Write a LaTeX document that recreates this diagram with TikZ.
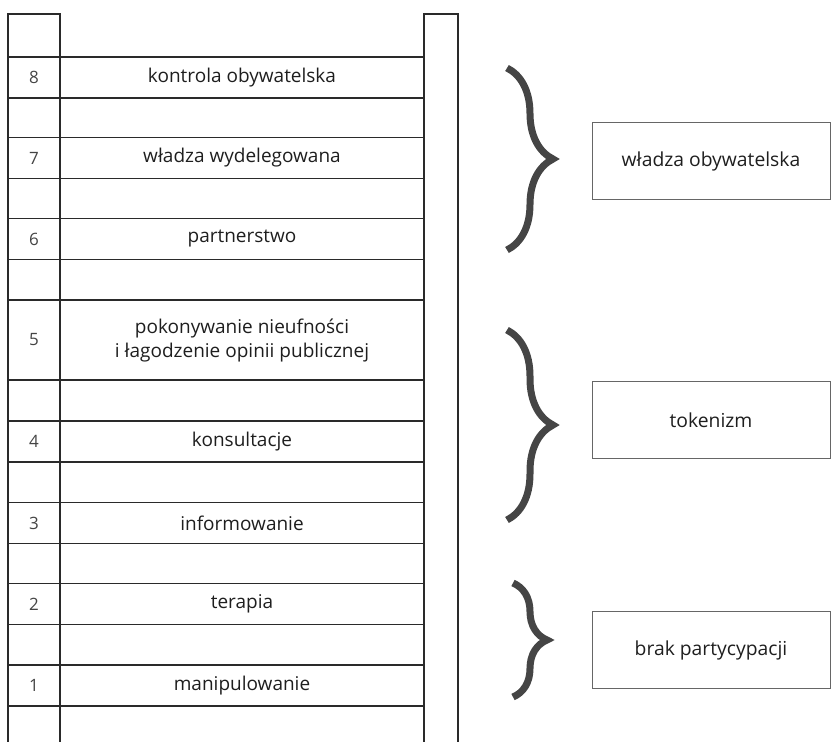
\documentclass[tikz,border=0pt]{standalone}
\usepackage{fontspec}
\setmainfont{Open Sans}
\usetikzlibrary{decorations.pathreplacing}
\definecolor{ink}{HTML}{1e1e1e}
\definecolor{grid}{HTML}{2a2a2a}
\definecolor{numc}{HTML}{444444}
\definecolor{boxc}{HTML}{666666}
\definecolor{bracec}{HTML}{454545}
\begin{document}
\begin{tikzpicture}[x=1pt,y=-1pt,
  gridline/.style={draw=grid,line width=1.3pt},
  numcell/.style={draw=grid,line width=1.3pt,minimum width=52pt,minimum height=41pt,inner sep=0pt,text=numc,font=\fontsize{17}{20}\selectfont},
  rungcell/.style={draw=grid,line width=1.3pt,minimum width=364pt,minimum height=41pt,inner sep=0pt,text=ink,align=center,font=\fontsize{19}{24}\selectfont},
  groupbox/.style={draw=boxc,line width=1pt,minimum width=238pt,minimum height=77pt,inner sep=0pt,text=ink,font=\fontsize{19.3}{24}\selectfont},
  bigbrace/.style={draw=bracec,line width=7pt,decorate,decoration={brace,amplitude=#1}}
]
\useasboundingbox (0,0) rectangle (831,742);
% frame of the ladder
\draw[gridline] (8,742) -- (8,14) -- (60,14) -- (60,742);
\draw[gridline] (424,742) -- (424,14) -- (458,14) -- (458,742);
% rungs
\node[numcell] (n8) at (34,77.5) {8};
\node[rungcell] (r8) at (242,77.5) {kontrola obywatelska};
\node[numcell] (n7) at (34,158) {7};
\node[rungcell] (r7) at (242,158) {władza wydelegowana};
\node[numcell] (n6) at (34,239) {6};
\node[rungcell] (r6) at (242,239) {partnerstwo};
\node[numcell,minimum height=80pt] (n5) at (34,340) {5};
\node[rungcell,minimum height=80pt] (r5) at (242,340) {pokonywanie nieufności\\i łagodzenie opinii publicznej};
\node[numcell] (n4) at (34,441.5) {4};
\node[rungcell] (r4) at (242,441.5) {konsultacje};
\node[numcell] (n3) at (34,523) {3};
\node[rungcell] (r3) at (242,523) {informowanie};
\node[numcell] (n2) at (34,604) {2};
\node[rungcell] (r2) at (242,604) {terapia};
\node[numcell] (n1) at (34,685.5) {1};
\node[rungcell] (r1) at (242,685.5) {manipulowanie};
% braces
\coordinate (b1t) at (507,68);  \coordinate (b1b) at (507,250);
\coordinate (b2t) at (507,330); \coordinate (b2b) at (507,520);
\coordinate (b3t) at (513,583); \coordinate (b3b) at (513,697);
\draw[bigbrace=46pt] (b1t) -- (b1b);
\draw[bigbrace=46pt] (b2t) -- (b2b);
\draw[bigbrace=34pt] (b3t) -- (b3b);
% group boxes
\node[groupbox] (g1) at (711,161) {władza obywatelska};
\node[groupbox] (g2) at (711,420) {tokenizm};
\node[groupbox] (g3) at (711,650) {brak partycypacji};
\end{tikzpicture}
\end{document}
